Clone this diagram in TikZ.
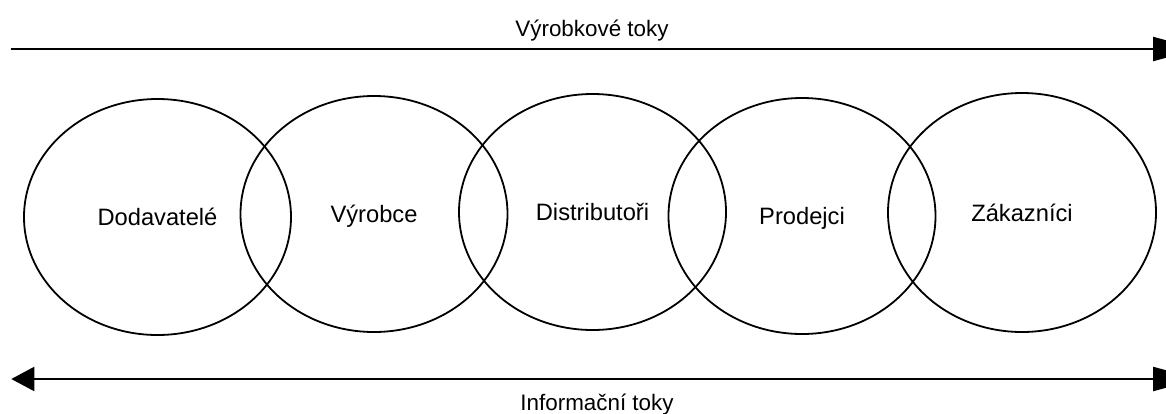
\documentclass[tikz,border=0pt]{standalone}
\usepackage{fontspec}
\setmainfont{Liberation Sans}
\usetikzlibrary{shapes.geometric,arrows.meta}
\begin{document}
\begin{tikzpicture}[x=1pt,y=-1pt,
  party/.style={ellipse,draw,line width=1.8pt,minimum width=267pt,minimum height=236pt,
    inner sep=0pt,text height=17pt,text depth=0pt,font=\fontsize{23.7pt}{28pt}\selectfont},
  flow/.style={line width=2.3pt},
  title/.style={anchor=base,inner sep=0pt,font=\fontsize{22.4pt}{27pt}\selectfont},
  lhead/.style={},
]
\useasboundingbox (0,0) rectangle (1166,413);
% flows
\coordinate (pL) at (10.7,49);
\coordinate (pR) at (1198,49);
\coordinate (iL) at (11.3,379);
\coordinate (iR) at (1198,379);
\draw[flow,-{Triangle[length=45pt,width=24pt]}] (pL) -- (pR);
\draw[flow,{Triangle[length=23pt,width=24pt]}-{Triangle[length=45pt,width=24pt]}] (iL) -- (iR);
\node[title] (pt) at (592,36) {Výrobkové toky};
\node[title] (it) at (597,410) {Informační toky};
% parties
\node[party] (e1) at (157.5,217) {Dodavatelé};
\node[party] (e2) at (374,214) {Výrobce};
\node[party] (e3) at (592.5,212) {Distributoři};
\node[party] (e4) at (802,216) {Prodejci};
\node[party,minimum width=268pt,minimum height=239pt] (e5) at (1022,212.5) {Zákazníci};
\end{tikzpicture}
\end{document}
